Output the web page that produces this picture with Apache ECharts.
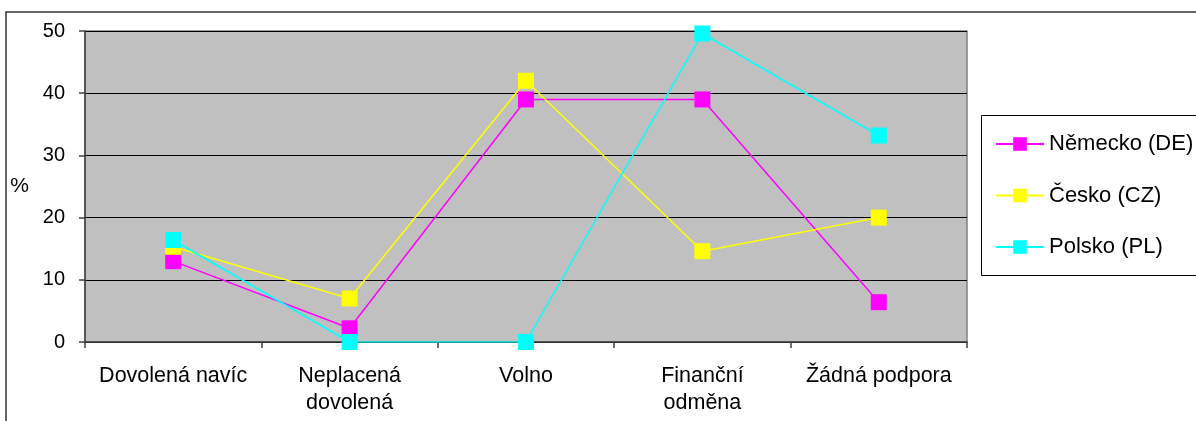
<!DOCTYPE html>
<html>
<head>
<meta charset="utf-8">
<script src="https://cdn.jsdelivr.net/npm/echarts@6/dist/echarts.min.js"></script>
<style>
html,body{margin:0;padding:0;background:#fff;}
#chart{width:1196px;height:421px;}
</style>
</head>
<body>
<div id="chart"></div>
<script>
var categories = ['Dovolená navíc', 'Neplacená\ndovolená', 'Volno', 'Finanční\nodměna', 'Žádná podpora'];
var seriesNames = ['Německo (DE)', 'Česko (CZ)', 'Polsko (PL)'];
var valuesDE = [13, 2.2, 39, 39, 6.4];
var valuesCZ = [15.3, 7, 42, 14.6, 20];
var valuesPL = [16.4, 0, 0, 49.6, 33.2];
var yTicks = [0, 10, 20, 30, 40, 50];
var colors = ['#ff00ff', '#ffff00', '#00ffff'];

var FONT = '"Liberation Sans", Arial, sans-serif';
var chart = echarts.init(document.getElementById('chart'), null, {renderer: 'canvas'});

function mkSeries(name, data, color) {
  return {
    name: name,
    type: 'line',
    data: data,
    symbol: 'rect',
    symbolSize: 16,
    lineStyle: {color: color, width: 1.5},
    itemStyle: {color: color},
    emphasis: {disabled: true},
    animation: false
  };
}

chart.setOption({
  animation: false,
  backgroundColor: '#ffffff',
  textStyle: {fontFamily: FONT},
  grid: {
    left: 85, right: 229, top: 31, bottom: 79,
    show: true, backgroundColor: '#c0c0c0', borderColor: '#808080', borderWidth: 1.5
  },
  legend: {
    orient: 'vertical',
    left: 995,
    top: 133,
    padding: 0,
    itemWidth: 48,
    itemHeight: 17,
    itemGap: 29.5,
    textStyle: {fontFamily: FONT, fontSize: 22, color: '#000', lineHeight: 22},
    data: seriesNames
  },
  xAxis: {
    type: 'category',
    data: categories,
    boundaryGap: true,
    axisLine: {show: true, lineStyle: {color: '#404040', width: 1.5}},
    axisTick: {show: true, length: 6, lineStyle: {color: '#404040', width: 1.5}},
    axisLabel: {fontFamily: FONT, fontSize: 21.5, color: '#000', margin: 21, lineHeight: 27, interval: 0},
    splitLine: {show: false}
  },
  yAxis: {
    type: 'value',
    min: yTicks[0],
    max: yTicks[yTicks.length - 1],
    interval: 10,
    name: '%',
    nameLocation: 'middle',
    nameRotate: 0,
    nameGap: 56,
    nameTextStyle: {fontFamily: FONT, fontSize: 21, color: '#000'},
    axisLine: {show: true, lineStyle: {color: '#404040', width: 1.5}},
    axisTick: {show: true, length: 6, lineStyle: {color: '#404040', width: 1.5}},
    axisLabel: {fontFamily: FONT, fontSize: 20, color: '#000', margin: 20},
    splitLine: {show: true, lineStyle: {color: '#000', width: 1}}
  },
  graphic: [
    {type: 'rect', silent: true, z: 100, shape: {x: 6, y: 12, width: 1400, height: 600},
     style: {fill: 'none', stroke: '#333', lineWidth: 1.5}},
    {type: 'rect', silent: true, z: 100, shape: {x: 981.5, y: 115.5, width: 300, height: 160},
     style: {fill: 'none', stroke: '#000', lineWidth: 1}}
  ],
  series: [
    mkSeries(seriesNames[0], valuesDE, colors[0]),
    mkSeries(seriesNames[1], valuesCZ, colors[1]),
    mkSeries(seriesNames[2], valuesPL, colors[2])
  ]
});
</script>
</body>
</html>
